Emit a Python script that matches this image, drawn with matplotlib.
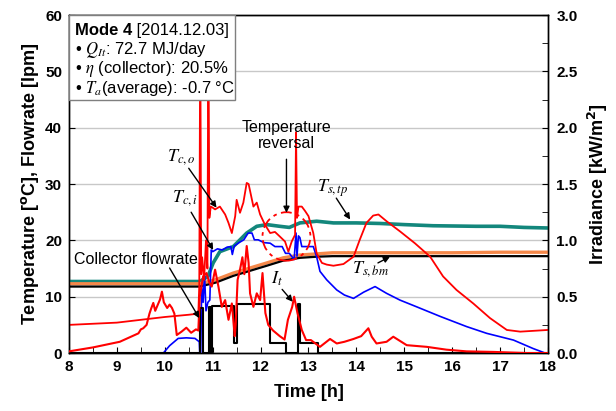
import matplotlib
matplotlib.use("Agg")
import matplotlib.pyplot as plt
from matplotlib.patches import Ellipse, Rectangle
from matplotlib.ticker import MultipleLocator

plt.rcParams['font.family'] = ['Liberation Sans', 'DejaVu Sans']
plt.rcParams['mathtext.fontset'] = 'stix'

# ---------------- data ----------------
# Collector outlet temperature T_c,o [degC]
t_co = [8.0, 9.0, 9.5, 10.0, 10.5, 10.70, 10.72, 10.74, 10.76, 10.78, 10.82, 10.86, 10.89,
        10.91, 10.93, 10.96, 11.0, 11.05, 11.15, 11.26, 11.33, 11.40, 11.47, 11.50, 11.57,
        11.64, 11.71, 11.75, 11.85, 11.92, 11.99, 12.09, 12.2, 12.3, 12.4, 12.51, 12.58,
        12.65, 12.72, 12.74, 12.76, 12.79, 12.86, 12.93, 13.0, 13.1, 13.17, 13.28, 13.38,
        13.52, 13.73, 13.94, 14.07, 14.21, 14.35, 14.46, 14.63, 14.91, 15.22, 15.54, 15.81,
        16.09, 16.44, 16.79, 17.14, 17.42, 18.0]
v_co = [5.0, 5.4, 5.9, 6.4, 6.8, 7.0, 12, 58, 14, 17, 13, 20, 15,
        58, 24, 26, 25.8, 25.5, 26.0, 24.6, 23.1, 21.3, 24.3, 27.2, 24.9,
        26.7, 30.2, 30.0, 26.0, 26.7, 24.6, 22.8, 21.3, 21.5, 20.7, 19.8, 18.0,
        19.8, 21.0, 39.2, 24, 26, 26, 25.2, 24.3, 21.3, 17.7, 16.0, 15.7,
        15.5, 15.8, 17.1, 20.1, 23.1, 24.4, 24.6, 23.4, 21.6, 19.5, 17.1, 13.6,
        11.2, 8.8, 6.2, 4.1, 3.8, 4.1]

# Collector inlet temperature T_c,i [degC]
t_ci = [9.97, 10.10, 10.28, 10.45, 10.63, 10.72, 10.73, 10.75, 10.77, 10.80, 10.83, 10.86,
        10.90, 10.94, 10.97, 11.0, 11.1, 11.2, 11.3, 11.38, 11.41, 11.45, 11.55, 11.65,
        11.74, 11.82, 11.87, 11.95, 12.07, 12.2, 12.3, 12.45, 12.52, 12.6, 12.7, 12.74,
        12.76, 12.79, 12.82, 12.86, 12.9, 13.0, 13.1, 13.17, 13.24, 13.38, 13.59, 13.75,
        13.94, 14.15, 14.39, 14.63, 14.91, 15.26, 15.75, 16.3, 16.72, 17.28, 17.69, 17.94]
v_ci = [0, 1.3, 2.6, 2.7, 2.6, 2.0, 0, 0, 12, 9, 14, 7.5,
        9, 9.4, 18.3, 18.0, 18.5, 18.3, 18.8, 18.9, 17.5, 19.0, 19.6, 20.1,
        21.3, 21.3, 20.1, 20.1, 19.6, 19.5, 18.9, 18.9, 17.7, 17.7, 16.6, 21.3,
        17.2, 20.8, 20.5, 18.9, 18.9, 18.9, 18.9, 17.1, 14.5, 13.0, 11.2, 10.3,
        9.7, 10.8, 11.8, 10.6, 9.4, 8.2, 6.5, 4.7, 3.5, 2.3, 0.8, 0]

# Storage tank top temperature T_s,tp [degC]
t_tp = [8.0, 9.0, 10.0, 10.73, 10.9, 11.01, 11.15, 11.43, 11.57, 11.71, 11.92, 12.13, 12.4,
        12.6, 12.82, 13.17, 13.52, 14.0, 14.5, 15.0, 15.6, 16.5, 17.0, 17.5, 18.0]
v_tp = [12.7, 12.7, 12.7, 12.7, 13.6, 16.0, 18.0, 18.9, 20.1, 21.3, 22.5, 22.8, 22.5,
        22.3, 23.1, 23.4, 23.1, 23.1, 23.0, 22.8, 22.6, 22.5, 22.5, 22.3, 22.2]

# Storage tank middle / bottom temperatures [degC]
t_st = [8.0, 9.0, 10.0, 10.73, 11.06, 11.43, 11.78, 12.13, 12.47, 12.82, 13.17, 13.5, 14.0,
        15.0, 16.0, 17.0, 18.0]
v_md = [12.3, 12.3, 12.3, 12.3, 13.0, 14.2, 15.1, 16.0, 16.9, 17.4, 17.6, 17.8, 17.8,
        17.8, 17.8, 17.9, 17.9]
v_bm = [11.8, 11.8, 11.8, 11.8, 12.5, 13.7, 14.6, 15.5, 16.4, 16.9, 17.1, 17.2, 17.2,
        17.2, 17.2, 17.2, 17.2]

# Collector flowrate [lpm] (step signal)
t_fl = [8.0, 10.73, 10.80, 10.93, 10.97, 10.99, 11.45, 11.50, 12.20, 12.53, 12.78, 12.82,
        13.20, 18.0]
v_fl = [0, 8.0, 0, 8.2, 0, 8.3, 1.7, 8.7, 1.8, 0, 8.7, 1.8, 0, 0]

# Irradiance I_t [kW/m2]
t_it = [8.0, 8.5, 9.06, 9.45, 9.5, 9.55, 9.62, 9.68, 9.72, 9.76, 9.8, 9.85, 9.9, 9.94,
        9.98, 10.05, 10.1, 10.15, 10.2, 10.25, 10.35, 10.45, 10.55, 10.65, 10.70, 10.73,
        10.8, 10.87, 10.93, 10.98, 11.05, 11.12, 11.19, 11.26, 11.33, 11.40, 11.46, 11.48,
        11.52, 11.57, 11.62, 11.66, 11.71, 11.75, 11.78, 11.85, 11.92, 11.99, 12.04, 12.1,
        12.16, 12.26, 12.4, 12.5, 12.57, 12.66, 12.7, 12.77, 12.86, 12.95, 13.05, 13.24,
        13.45, 13.59, 13.75, 13.94, 14.1, 14.25, 14.32, 14.42, 14.63, 14.77, 15.05, 15.47,
        15.88, 16.3, 16.87, 17.2, 17.57, 18.0]
v_it = [0.015, 0.05, 0.10, 0.175, 0.21, 0.22, 0.25, 0.35, 0.40, 0.445, 0.375, 0.425, 0.475,
        0.545, 0.45, 0.40, 0.43, 0.40, 0.35, 0.16, 0.19, 0.225, 0.18, 0.21, 0.20, 0.50,
        0.68, 0.71, 0.625, 0.59, 0.74, 0.59, 0.41, 0.47, 0.295, 0.44, 0.15, 0.25,
        0.65, 0.74, 0.85, 0.70, 0.95, 0.80, 0.53, 0.41, 0.53, 0.47, 0.71, 0.355,
        0.25, 0.20, 0.15, 0.12, 0.295, 0.41, 0.50, 0.355, 0.205, 0.115, 0.115, 0.055,
        0.125, 0.085, 0.10, 0.125, 0.15, 0.22, 0.145, 0.085, 0.10, 0.145, 0.07, 0.055,
        0.03, 0.015, 0.01, 0.005, 0.0, 0.0]

x_ticks = list(range(8, 19))
left_ticks = [0, 10, 20, 30, 40, 50, 60]
right_ticks = [0.0, 0.5, 1.0, 1.5, 2.0, 2.5, 3.0]

# ---------------- figure ----------------
fig = plt.figure(figsize=(6.16, 4.11), dpi=100)
ax = fig.add_axes([0.112, 0.141, 0.7776, 0.8224])
ax2 = ax.twinx()

red = '#ff0000'
blue = '#0000ff'
teal = '#13877c'
orange = '#f5884a'

ax.plot(t_tp, v_tp, color=teal, lw=2.6, zorder=3)
ax.plot(t_st, v_md, color=orange, lw=2.4, zorder=3)
ax.plot(t_st, v_bm, color='black', lw=1.6, zorder=3)
ax.plot(t_ci, v_ci, color=blue, lw=1.2, zorder=4)
ax.plot(t_co, v_co, color=red, lw=1.3, zorder=4)
ax.plot(t_fl, v_fl, color='black', lw=1.5, drawstyle='steps-post', zorder=5)
ax2.plot(t_it, v_it, color=red, lw=1.5, zorder=3)

ax.set_xlim(8, 18)
ax.set_ylim(0, 60)
ax2.set_ylim(0, 3.0)
ax.set_xticks(x_ticks)
ax.xaxis.set_minor_locator(MultipleLocator(0.5))
ax.set_yticks(left_ticks)
ax2.set_yticks(right_ticks)
ax2.yaxis.set_minor_locator(MultipleLocator(0.25))
ax.yaxis.grid(True, color='#c8c8c8', lw=1.0)
ax.set_axisbelow(True)

for a in (ax, ax2):
    for s in a.spines.values():
        s.set_linewidth(1.0)
ax.tick_params(axis='both', which='both', direction='in', labelsize=11, length=4, top=False)
ax.tick_params(axis='y', which='both', right=False, pad=5)
ax.tick_params(axis='x', which='both', pad=5)
ax2.tick_params(axis='y', which='both', direction='in', labelsize=11, length=4, pad=6)
for lab in ax.get_xticklabels() + ax.get_yticklabels() + ax2.get_yticklabels():
    lab.set_fontweight('bold')
ax2.set_yticklabels(['%.1f' % v for v in right_ticks], fontweight='bold', fontsize=11)

ax.set_xlabel('Time [h]', fontsize=13, fontweight='bold', labelpad=7)
ax.set_ylabel(r'Temperature [$^\mathbf{o}$C], Flowrate [lpm]', fontsize=13,
              fontweight='bold', labelpad=3, math_fontfamily='dejavusans')
ax2.set_ylabel(r'Irradiance [kW/m$^\mathbf{2}$]', fontsize=13, fontweight='bold',
               labelpad=6, math_fontfamily='dejavusans')

# dashed ellipse (temperature reversal)
ax.add_patch(Ellipse((12.54, 20.7), 1.0, 8.6, fill=False, edgecolor=red, lw=1.3,
                     linestyle=(0, (6, 2.5, 2, 2.5)), zorder=6))

arrow = dict(arrowstyle='-|>', color='black', lw=1.0, mutation_scale=9, shrinkA=0, shrinkB=0)
mk = dict(xycoords=ax.transData, textcoords=ax.transData, zorder=8)

def note(txt, xy, xytext, **kw):
    ax2.annotate(txt, xy=xy, xytext=xytext, arrowprops=arrow, **mk, **kw)

note('', (11.08, 25.8), (10.5, 32.8))
ax2.text(10.35, 34.8, r'$T_{c,o}$', fontsize=13, ha='center', va='center', transform=ax.transData, zorder=8)
note('', (11.01, 18.3), (10.55, 25.0))
ax2.text(10.42, 27.6, r'$T_{c,i}$', fontsize=13, ha='center', va='center', transform=ax.transData, zorder=8)
note('', (10.72, 6.2), (10.1, 15.1))
ax2.text(9.39, 16.6, 'Collector flowrate', fontsize=11.5, ha='center', va='center',
         transform=ax.transData, zorder=8)
note('', (12.54, 24.9), (12.54, 34.4))
ax2.text(12.54, 38.6, 'Temperature\nreversal', fontsize=11.5, ha='center', va='center',
         linespacing=1.15, transform=ax.transData, zorder=8)
note('', (13.87, 23.7), (13.58, 27.5))
ax2.text(13.5, 29.3, r'$T_{s,tp}$', fontsize=13, ha='center', va='center', transform=ax.transData, zorder=8)
note('', (14.7, 17.1), (14.45, 16.0))
ax2.text(14.3, 15.0, r'$T_{s,bm}$', fontsize=13, ha='center', va='center', transform=ax.transData, zorder=8)
note('', (12.67, 9.1), (12.45, 11.3))
ax2.text(12.34, 13.1, r'$I_t$', fontsize=13, ha='center', va='center', transform=ax.transData, zorder=8)

# info box
ax2.add_patch(Rectangle((0, 0.7485), 0.3466, 0.2515, transform=ax.transAxes, facecolor='white',
                        edgecolor='#7f7f7f', lw=1.0, zorder=9, clip_on=False))
tx = 0.012
fs = 12
t1 = ax2.text(tx, 0.9556, 'Mode 4', transform=ax.transAxes, fontsize=fs, fontweight='bold',
              va='center', ha='left', zorder=10)
ax2.annotate(' [2014.12.03]', xy=(1, 0), xycoords=t1, va='bottom', ha='left', fontsize=fs, zorder=10)
ax2.text(tx, 0.8964, r'• $Q_{It}$: 72.7 MJ/day', transform=ax.transAxes, fontsize=fs,
         va='center', ha='left', zorder=10)
ax2.text(tx, 0.8402, r'• $\eta$ (collector): 20.5%', transform=ax.transAxes, fontsize=fs,
         va='center', ha='left', zorder=10)
ax2.text(tx, 0.7840, r'• $T_a$(average): -0.7 °C', transform=ax.transAxes, fontsize=fs,
         va='center', ha='left', zorder=10)

fig.savefig('out.png', dpi=100)
